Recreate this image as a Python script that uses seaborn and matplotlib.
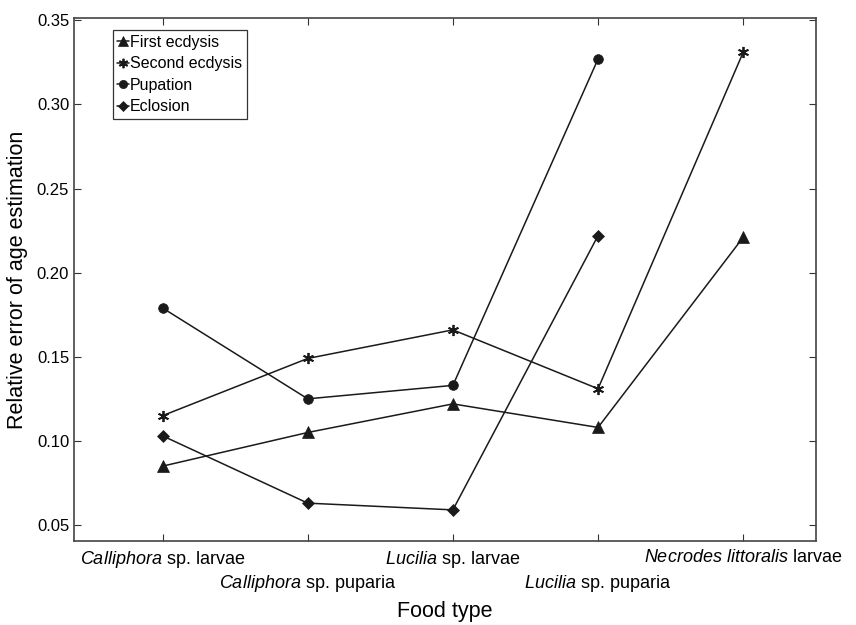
import numpy as np
import pandas as pd
import matplotlib
matplotlib.use("Agg")
import matplotlib.pyplot as plt
import seaborn as sns

categories = [r"$\it{Calliphora}$ sp. larvae", r"$\it{Calliphora}$ sp. puparia",
              r"$\it{Lucilia}$ sp. larvae", r"$\it{Lucilia}$ sp. puparia",
              r"$\it{Necrodes\ littoralis}$ larvae"]
first_ecdysis = [0.085, 0.105, 0.122, 0.108, 0.221]
second_ecdysis = [0.115, 0.149, 0.166, 0.131, 0.331]
pupation = [0.179, 0.125, 0.133, 0.327, np.nan]
eclosion = [0.103, 0.063, 0.059, 0.222, np.nan]
series_names = ["First ecdysis", "Second ecdysis", "Pupation", "Eclosion"]
yticks = [0.05, 0.10, 0.15, 0.20, 0.25, 0.30, 0.35]

sns.set_theme(style="ticks")
plt.rcParams['font.family'] = ['Liberation Sans', 'DejaVu Sans']
plt.rcParams['mathtext.fontset'] = 'custom'
plt.rcParams['mathtext.it'] = 'Liberation Sans:italic'
plt.rcParams['mathtext.rm'] = 'Liberation Sans'
plt.rcParams['text.color'] = 'black'
plt.rcParams['axes.labelcolor'] = 'black'

rows = []
for name, vals in zip(series_names, [first_ecdysis, second_ecdysis, pupation, eclosion]):
    for i, v in enumerate(vals):
        rows.append({"pos": i, "value": v, "series": name})
df = pd.DataFrame(rows).dropna()

fig, ax = plt.subplots(figsize=(8.56, 6.25), dpi=100)
fig.subplots_adjust(left=0.0865, right=0.953, top=0.971, bottom=0.1344)

markers = {"First ecdysis": "^", "Second ecdysis": (6, 2, 0), "Pupation": "o", "Eclosion": "D"}
sizes = {"First ecdysis": 8, "Second ecdysis": 8, "Pupation": 7, "Eclosion": 6}
color = "#1a1a1a"
for name in series_names:
    sub = df[df["series"] == name]
    sns.lineplot(data=sub, x="pos", y="value", ax=ax, color=color, lw=1.1,
                 marker=markers[name], markersize=sizes[name], markeredgecolor=color,
                 markeredgewidth=1.3 if name == "Second ecdysis" else 0.5,
                 label=name, legend=False)

ax.set_xlim(-0.61, 4.5)
ax.set_ylim(0.0405, 0.3513)
ax.set_xticks(range(len(categories)))
ax.set_xticklabels(categories, fontsize=13)
ax.set_yticks(yticks)
ax.set_yticklabels([f"{t:.2f}" for t in yticks], fontsize=12)
ax.tick_params(direction="in", top=True, right=True, length=5, width=0.8, colors="#333333",
               labelcolor="black")
for i, t in enumerate(ax.xaxis.get_major_ticks()):
    t.set_pad(6 if i % 2 == 0 else 23)
for s in ax.spines.values():
    s.set_color("#444444")
    s.set_linewidth(1.2)

ax.set_xlabel("Food type", fontsize=15.5, labelpad=5)
ax.set_ylabel("Relative error of age estimation", fontsize=15.5, labelpad=6)

handles, labels = ax.get_legend_handles_labels()
leg = ax.legend(handles, labels, loc="upper left", bbox_to_anchor=(0.052, 0.977),
                borderaxespad=0, fontsize=11.5, handlelength=0.7, handletextpad=0.1,
                borderpad=0.3, labelspacing=0.4, frameon=True, fancybox=False,
                edgecolor="black", markerscale=0.85)
leg.get_frame().set_linewidth(0.9)

fig.savefig("out.png", dpi=100)
